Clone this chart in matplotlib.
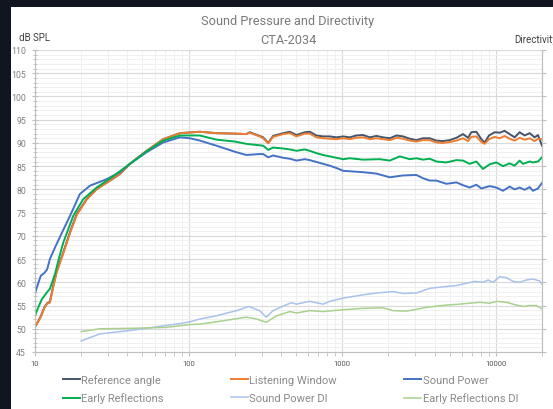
import matplotlib
matplotlib.use("Agg")
import matplotlib.pyplot as plt
from matplotlib.patches import Rectangle
from matplotlib.ticker import FixedLocator, NullFormatter

plt.rcParams['font.family'] = ['Roboto', 'DejaVu Sans']

# ---- data ----
ref_f = [10, 10.5, 11, 11.5, 12, 12.5, 13.15, 13.8, 15.3, 16.9, 18.7, 21.7, 25.2, 30.8, 35.7, 41.5,
         53.3, 68.3, 87.8, 118.5, 152, 200, 238, 250, 290, 306, 330, 355, 413, 456, 504, 571, 615,
         680, 750, 830, 918, 1014, 1120, 1239, 1368, 1513, 1671, 1846, 2042, 2256, 2491, 2754,
         3043, 3359, 3713, 4102, 4536, 5012, 5543, 6120, 6596, 6935, 7476, 8057, 8470, 9036, 9840,
         10600, 11420, 12310, 13270, 14300, 15420, 16620, 17910, 18830, 20000]
ref_v = [50.4, 51.6, 53.0, 54.6, 55.5, 55.8, 59.3, 62.2, 66.5, 70.8, 74.7, 77.9, 80.1, 81.9, 83.3, 85.5,
         88.3, 90.8, 92.1, 92.4, 92.1, 92.0, 91.9, 92.3, 91.5, 91.2, 90.0, 91.5, 92.1, 92.4, 91.7, 92.3, 92.4,
         91.6, 91.4, 91.4, 91.2, 91.4, 91.2, 91.6, 91.7, 91.2, 91.5, 91.2, 91.0, 91.6, 91.4, 90.9,
         90.6, 91.0, 91.0, 90.5, 90.4, 90.6, 91.1, 91.9, 91.1, 92.3, 92.4, 90.8, 90.1, 91.6, 92.3,
         92.2, 92.6, 91.9, 91.2, 92.3, 91.6, 92.1, 91.2, 91.7, 89.4]

lw_f = [10, 10.5, 11, 11.5, 12, 12.5, 13.15, 13.8, 15.3, 16.9, 18.7, 21.7, 25.2, 30.8, 35.7, 41.5,
        53.3, 68.3, 87.8, 118.5, 152, 200, 238, 250, 290, 306, 330, 355, 413, 456, 504, 571, 615,
        680, 750, 830, 918, 1014, 1120, 1239, 1368, 1513, 1671, 1846, 2042, 2256, 2491, 2754,
        3043, 3359, 3713, 4102, 4536, 5012, 5543, 6120, 6596, 6935, 7476, 8057, 8470, 9036, 9840,
        10600, 11420, 12310, 13270, 14300, 15420, 16620, 17910, 18830, 20000]
lw_v = [50.6, 51.5, 52.8, 54.5, 55.4, 55.6, 59.0, 62.0, 66.3, 70.6, 74.5, 77.8, 80.0, 81.9, 83.3, 85.5,
        88.3, 90.8, 92.1, 92.4, 92.1, 92.0, 91.9, 92.2, 91.4, 91.0, 89.9, 91.3, 91.9, 92.1, 91.4, 92.0, 92.0,
        91.2, 91.0, 90.9, 90.8, 91.0, 90.8, 91.1, 91.2, 90.8, 91.0, 90.8, 90.6, 91.1, 90.9, 90.5,
        90.3, 90.6, 90.6, 90.1, 90.0, 90.2, 90.5, 91.0, 90.4, 91.3, 91.4, 90.2, 89.8, 90.8, 91.3,
        91.0, 91.5, 90.9, 90.5, 91.1, 90.7, 91.0, 90.4, 90.9, 90.8]

sp_f = [10, 10.5, 10.9, 11.5, 12, 12.5, 13.5, 14.5, 16.9, 19.6, 22.8, 29.3, 35.7, 41.5, 53.3, 68.3,
        87.8, 102, 118.5, 152, 200, 238, 290, 306, 330, 355, 413, 456, 504, 571, 615, 680, 751,
        830, 918, 1014, 1239, 1368, 1671, 2042, 2491, 3043, 3359, 3713, 4102, 4770, 5543, 6120,
        6763, 7476, 8057, 9120, 10090, 11140, 12310, 13270, 14300, 15420, 16620, 17460, 18830, 20000]
sp_v = [57.6, 59.8, 61.4, 62.0, 62.8, 65.0, 67.5, 69.7, 74.3, 79.0, 80.8, 82.2, 83.7, 85.5, 88.0, 90.1,
        91.2, 91.0, 90.5, 89.4, 88.1, 87.4, 87.6, 87.6, 86.9, 87.3, 86.8, 86.6, 86.2, 86.5, 86.3, 85.9, 85.5,
        85.1, 84.6, 84.0, 83.8, 83.7, 83.4, 82.6, 83.0, 83.1, 82.4, 81.9, 81.9, 81.2, 81.5, 80.9,
        80.4, 81.0, 80.2, 80.7, 80.4, 79.7, 80.6, 80.0, 80.4, 79.9, 80.5, 79.7, 80.2, 81.4]

er_f = [10, 10.5, 11.1, 12, 12.5, 13.5, 14.4, 15.3, 17.75, 20.6, 25.2, 31.6, 41.5, 53.3, 68.3, 87.8,
        118.5, 152, 200, 238, 306, 330, 355, 413, 456, 504, 571, 615, 680, 751, 830, 918, 1014,
        1120, 1368, 1757, 2042, 2371, 2754, 3043, 3359, 3713, 4102, 4770, 5543, 6120, 6763, 7476,
        8260, 9120, 10090, 11140, 12310, 13270, 14300, 15030, 16620, 17460, 18830, 20000]
er_v = [52.8, 54.6, 56.4, 57.9, 58.6, 61.8, 65.5, 68.6, 74.3, 77.9, 80.4, 82.6, 85.5, 88.2, 90.5, 91.6,
        91.6, 90.7, 90.3, 89.8, 89.4, 88.5, 89.0, 88.8, 88.6, 88.3, 88.6, 88.3, 87.8, 87.4, 87.1, 86.8, 86.5,
        86.7, 86.4, 86.5, 86.2, 87.1, 86.5, 86.7, 86.4, 86.6, 86.0, 85.8, 86.3, 86.2, 85.5, 86.0,
        84.4, 85.4, 85.8, 85.0, 85.6, 85.1, 86.2, 85.5, 86.0, 85.8, 86.0, 86.9]

spdi_f = [20, 26.5, 43.4, 71, 91.8, 102, 118.5, 152, 205, 247, 290, 320, 355, 413, 466, 504, 615, 751,
          830, 1014, 1368, 1671, 2144, 2491, 3043, 3713, 4770, 5543, 6442, 7290, 8260, 8892, 9590,
          10600, 11720, 12950, 14300, 15820, 17460, 19300, 20000]
spdi_v = [-2.6, -1.1, -0.3, 0.7, 1.2, 1.5, 2.1, 2.8, 3.9, 4.8, 3.9, 2.5, 3.9, 4.9, 5.6, 5.3, 5.9, 5.3,
          5.9, 6.6, 7.3, 7.7, 8.0, 7.6, 7.7, 8.7, 9.1, 9.3, 9.8, 10.2, 10.0, 10.5, 10.0,
          11.2, 11.0, 10.2, 10.0, 10.5, 10.7, 10.3, 9.6]

erdi_f = [20, 26.5, 43.4, 71, 102, 118.5, 152, 238, 277, 320, 375, 456, 504, 615, 751, 1014, 1368,
          1846, 2144, 2627, 3520, 4770, 5830, 6763, 7870, 9120, 10090, 11720, 13610, 15030, 16620,
          18360, 20000]
erdi_v = [-0.6, 0.0, 0.1, 0.3, 0.9, 1.0, 1.5, 2.5, 2.1, 1.4, 2.8, 3.7, 3.4, 3.9, 3.7, 4.1, 4.4,
          4.5, 3.9, 3.8, 4.6, 5.1, 5.3, 5.5, 5.7, 5.5, 5.9, 5.7, 5.1, 4.8, 5.0,
          5.0, 4.3]

labels = ['Reference angle', 'Listening Window', 'Sound Power',
          'Early Reflections', 'Sound Power DI', 'Early Reflections DI']
colors = ['#44546A', '#ED7D31', '#4472C4', '#00B050', '#A9C2EC', '#A9D18E']

# ---- figure ----
W, H = 553, 410
fig = plt.figure(figsize=(W / 100, H / 100), dpi=100)
fig.patch.set_facecolor('#10151f')
fig.add_artist(Rectangle((11 / W, 0), 1 - 11 / W, (H - 8) / H, transform=fig.transFigure,
                         facecolor='white', edgecolor='none', zorder=0))

ax = fig.add_axes([35 / W, (H - 353) / H, (542 - 35) / W, (353 - 51) / H])
ax.set_facecolor('white')
ax2 = ax.twinx()

l_ref, = ax.plot(ref_f, ref_v, color=colors[0], lw=1.4, label=labels[0])
l_lw, = ax.plot(lw_f, lw_v, color=colors[1], lw=1.4, label=labels[1])
l_sp, = ax.plot(sp_f, sp_v, color=colors[2], lw=1.4, label=labels[2])
l_er, = ax.plot(er_f, er_v, color=colors[3], lw=1.4, label=labels[3])
l_spdi, = ax2.plot(spdi_f, spdi_v, color=colors[4], lw=1.1, label=labels[4])
l_erdi, = ax2.plot(erdi_f, erdi_v, color=colors[5], lw=1.1, label=labels[5])

ax.set_xscale('log')
ax.set_xlim(10, 20000)
ax.set_ylim(45, 110)
ax2.set_ylim(-5, 60)

ax.xaxis.set_major_locator(FixedLocator([10, 100, 1000, 10000]))
ax.set_xticklabels(['10', '100', '1000', '10000'])
minors = [m * d for d in (10, 100, 1000) for m in range(2, 10)] + [20000]
ax.xaxis.set_minor_locator(FixedLocator(minors))
ax.xaxis.set_minor_formatter(NullFormatter())
ax.set_yticks(range(45, 111, 5))
ax.yaxis.set_minor_locator(FixedLocator(range(45, 111)))
ax2.set_yticks(range(-5, 61, 5))

ax.grid(which='minor', color='#f0f0f0', lw=0.7)
ax.grid(which='major', color='#d9d9d9', lw=0.8)
ax.set_axisbelow(True)

for a in (ax, ax2):
    for s in a.spines.values():
        s.set_color('#bfbfbf')
        s.set_linewidth(0.8)
    a.spines['top'].set_visible(False)
ax2.spines['left'].set_visible(False)
ax2.spines['bottom'].set_visible(False)

ax.tick_params(axis='y', which='major', direction='inout', length=5, color='#bfbfbf',
               labelsize=6.3, labelcolor='#808080', pad=4)
ax.tick_params(axis='y', which='minor', direction='inout', length=3, color='#bfbfbf')
ax.tick_params(axis='x', which='major', direction='out', length=3, color='#bfbfbf',
               labelsize=5.5, labelcolor='#595959', pad=3)
ax.tick_params(axis='x', which='minor', direction='out', length=3, color='#bfbfbf')
ax2.tick_params(axis='y', direction='out', length=3, color='#bfbfbf',
                labelsize=6.3, labelcolor='#808080', pad=5)

fig.text(288 / W, 1 - 22 / H, 'Sound Pressure and Directivity', ha='center', va='center',
         fontsize=9.2, color='#7a7a7a')
fig.text(288 / W, 1 - 40 / H, 'CTA-2034', ha='center', va='center', fontsize=9.2, color='#7a7a7a')
fig.text(19 / W, 1 - 38 / H, 'dB SPL', ha='left', va='center', fontsize=7, color='#404040')
fig.text(514 / W, 1 - 40 / H, 'Directivity', ha='left', va='center', fontsize=7, color='#404040')

handles = [l_ref, l_er, l_lw, l_spdi, l_sp, l_erdi]
leg = ax.legend(handles, [h.get_label() for h in handles], loc='upper left',
                bbox_to_anchor=(63 / W, 1 - 379 / H, (518 - 63) / W, 0.01),
                bbox_transform=fig.transFigure, ncol=3, mode='expand', frameon=False,
                fontsize=8, handlelength=1.55, handletextpad=0.1, labelspacing=0.7,
                borderpad=0, borderaxespad=0, labelcolor='#8a8a8a')

fig.savefig('out.png', dpi=100, facecolor=fig.get_facecolor())
